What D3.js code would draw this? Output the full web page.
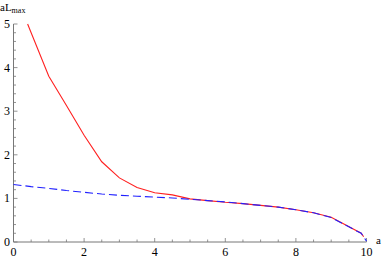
<!DOCTYPE html>
<html><head><meta charset="utf-8">
<script src="https://cdn.jsdelivr.net/npm/d3@7"></script>
<style>body{margin:0;background:#fff}svg{display:block}text{font-family:"Liberation Serif","Times New Roman",serif;}</style>
</head><body><svg id="c" width="382" height="258"></svg>
<script>
const redA = [0.4,0.5,1,1.5,2,2.5,3,3.5,4,4.5,5,5.5,6,6.5,7,7.5,8,8.5,9,9.85,9.92];
const redL = [5.0,4.8,3.8,3.13,2.45,1.84,1.47,1.25,1.13,1.08,0.99,0.95,0.91,0.88,0.84,0.80,0.74,0.67,0.57,0.2,0.12];
const blueA = [0,0.5,1,1.5,2,2.5,3,3.5,4,4.5,5,5.5,6,6.5,7,7.5,8,8.5,9,9.85,10];
const blueL = [1.32,1.27,1.23,1.18,1.14,1.10,1.07,1.05,1.03,1.01,0.98,0.95,0.92,0.88,0.84,0.80,0.74,0.67,0.56,0.2,0.02];
const xTicks = [0,2,4,6,8,10];
const yTicks = [0,1,2,3,4,5];

const svg = d3.select("#c");
const x = d3.scaleLinear().domain([0,10]).range([13.5,366.5]);
const y = d3.scaleLinear().domain([0,5]).range([242,24]);
const axisCol = "#777";

// axes lines
svg.append("line").attr("x1",x(0)).attr("x2",x(10)).attr("y1",y(0)).attr("y2",y(0)).attr("stroke",axisCol);
svg.append("line").attr("x1",x(0)).attr("x2",x(0)).attr("y1",y(0)).attr("y2",y(5)).attr("stroke",axisCol);

// x ticks
const xMinor = d3.range(0,10.001,0.5);
svg.selectAll(".xt").data(xMinor).enter().append("line")
  .attr("x1",d=>x(d)).attr("x2",d=>x(d))
  .attr("y1",y(0)).attr("y2",d=>Math.abs(d%2)<1e-6? y(0)-4 : y(0)-2.5)
  .attr("stroke",axisCol).attr("stroke-width",0.8);
const yMinor = d3.range(0,5.001,0.2);
svg.selectAll(".yt").data(yMinor).enter().append("line")
  .attr("y1",d=>y(d)).attr("y2",d=>y(d))
  .attr("x1",x(0)).attr("x2",d=>Math.abs(d-Math.round(d))<1e-6? x(0)+4 : x(0)+2.5)
  .attr("stroke",axisCol).attr("stroke-width",0.8);

svg.selectAll(".xl").data(xTicks).enter().append("text")
  .attr("x",d=>x(d)).attr("y",256).attr("text-anchor","middle")
  .attr("font-size",12).text(d=>d);
svg.selectAll(".yl").data(yTicks).enter().append("text")
  .attr("x",10).attr("y",d=>y(d)+4).attr("text-anchor","end")
  .attr("font-size",12).text(d=>d);

// axis labels
const t = svg.append("text").attr("x",0).attr("y",11).attr("font-size",11);
t.append("tspan").text("aL");
t.append("tspan").attr("font-size",8).attr("dy",2).text("max");
svg.append("text").attr("x",376).attr("y",244).attr("font-size",11).text("a");

const line = d3.line().x(d=>x(d[0])).y(d=>y(d[1]));
svg.append("path").datum(redA.map((a,i)=>[a,redL[i]]))
  .attr("d",line).attr("fill","none").attr("stroke","#ff2020").attr("stroke-width",1.1);
svg.append("path").datum(blueA.map((a,i)=>[a,blueL[i]]))
  .attr("d",line).attr("fill","none").attr("stroke","#2020ff").attr("stroke-width",1.1)
  .attr("stroke-dasharray","8,4");
</script></body></html>
